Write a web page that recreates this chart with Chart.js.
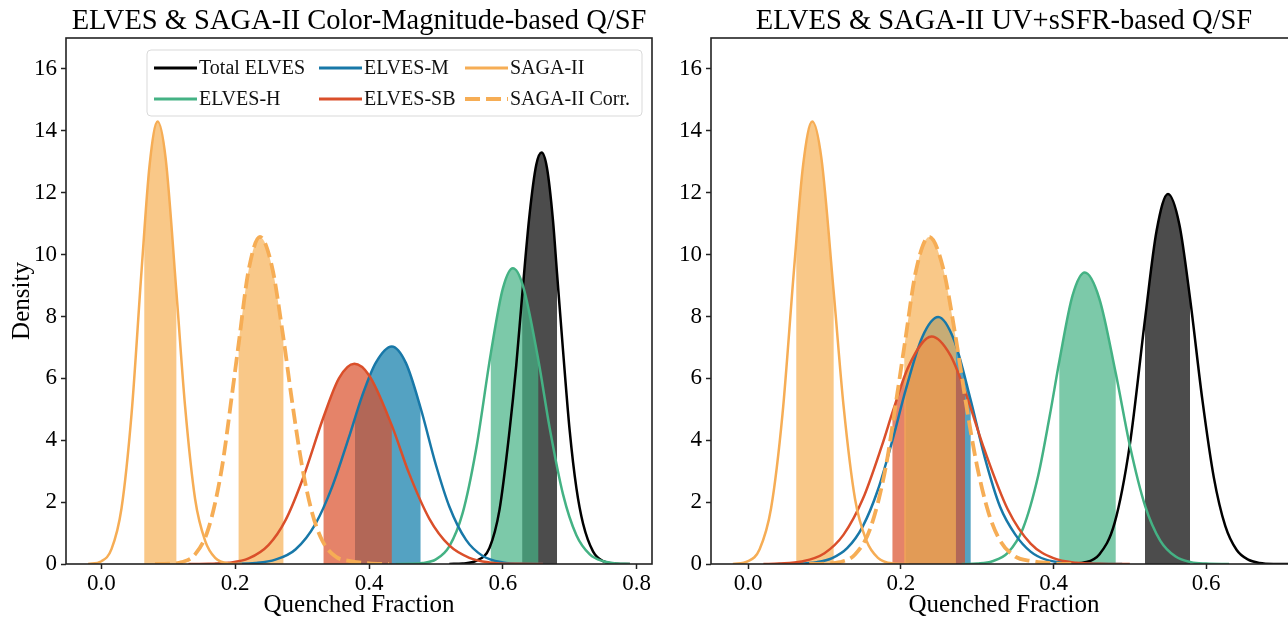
<!DOCTYPE html>
<html>
<head>
<meta charset="utf-8">
<title>ELVES &amp; SAGA-II quenched fractions</title>
<script src="https://cdn.jsdelivr.net/npm/chart.js@4.4.1/dist/chart.umd.min.js"></script>
<style>
  html, body { margin: 0; padding: 0; background: #fff; overflow: hidden; }
  #wrap { position: relative; width: 1288px; height: 618px; overflow: hidden; }
  canvas { position: absolute; top: 0; }
  #cmChart { left: 0; }
  #uvChart { left: 660px; }
</style>
</head>
<body>
<div id="wrap">
  <canvas id="cmChart" width="660" height="618"></canvas>
  <canvas id="uvChart" width="660" height="618"></canvas>
</div>
<script>
// Series names (legend order)
const seriesNames = ['Total ELVES', 'ELVES-H', 'ELVES-M', 'ELVES-SB', 'SAGA-II', 'SAGA-II Corr.'];

// SAGA-II densities (same in both panels)
const sagaX = [-0.02, 0.0, 0.015, 0.03, 0.045, 0.06, 0.072, 0.084, 0.096, 0.112, 0.125, 0.14, 0.155, 0.17, 0.19, 0.21];
const sagaY = [0.0, 0.09, 0.48, 1.8, 4.85, 9.5, 12.9, 14.3, 13.1, 8.8, 5.1, 2.1, 0.75, 0.2, 0.02, 0.0];
const sagaCorrX = [0.08, 0.10, 0.12, 0.14, 0.16, 0.18, 0.195, 0.205, 0.22, 0.237, 0.255, 0.272, 0.285, 0.30, 0.315, 0.33, 0.35, 0.37, 0.40, 0.43];
const sagaCorrY = [0.0, 0.01, 0.06, 0.31, 1.15, 3.1, 5.45, 7.1, 9.5, 10.57, 9.6, 7.3, 5.25, 3.15, 1.65, 0.76, 0.24, 0.1, 0.02, 0.0];

// Color-magnitude based Q/SF (left panel)
const cmTotalX = [0.52, 0.54, 0.56, 0.58, 0.595, 0.61, 0.62, 0.629, 0.64, 0.65, 0.658, 0.666, 0.675, 0.681, 0.69, 0.70, 0.71, 0.72, 0.735, 0.75, 0.77, 0.79];
const cmTotalY = [0.0, 0.02, 0.1, 0.52, 1.75, 4.3, 6.4, 8.7, 11.3, 12.9, 13.3, 12.8, 11.1, 9.4, 6.9, 4.3, 2.45, 1.3, 0.4, 0.09, 0.01, 0.0];
const cmHX = [0.44, 0.46, 0.48, 0.50, 0.52, 0.54, 0.56, 0.582, 0.60, 0.615, 0.63, 0.653, 0.67, 0.69, 0.71, 0.73, 0.75, 0.77, 0.79];
const cmHY = [0.0, 0.005, 0.03, 0.15, 0.57, 1.65, 3.7, 6.8, 8.9, 9.56, 9.0, 6.6, 4.4, 2.25, 0.93, 0.31, 0.09, 0.02, 0.0];
const cmMX = [0.17, 0.20, 0.23, 0.26, 0.29, 0.32, 0.345, 0.37, 0.39, 0.41, 0.434, 0.455, 0.477, 0.50, 0.52, 0.545, 0.57, 0.60, 0.63, 0.66];
const cmMY = [0.0, 0.006, 0.03, 0.14, 0.47, 1.3, 2.5, 4.1, 5.45, 6.5, 7.03, 6.5, 5.05, 3.2, 1.86, 0.78, 0.26, 0.05, 0.005, 0.0];
const cmSBX = [0.13, 0.16, 0.19, 0.22, 0.25, 0.275, 0.30, 0.332, 0.355, 0.378, 0.40, 0.434, 0.46, 0.49, 0.52, 0.55, 0.58, 0.62, 0.66];
const cmSBY = [0.0, 0.007, 0.04, 0.18, 0.62, 1.41, 2.7, 4.75, 6.0, 6.47, 6.1, 4.48, 2.92, 1.47, 0.6, 0.2, 0.05, 0.005, 0.0];
// shaded intervals, same order as seriesNames
const cmBandLo = [0.629, 0.582, 0.379, 0.332, 0.064, 0.205];
const cmBandHi = [0.681, 0.653, 0.477, 0.434, 0.112, 0.272];

// UV+sSFR based Q/SF (right panel)
const uvTotalX = [0.40, 0.42, 0.44, 0.46, 0.48, 0.50, 0.52, 0.535, 0.55, 0.565, 0.579, 0.595, 0.61, 0.625, 0.64, 0.655, 0.67, 0.69, 0.71];
const uvTotalY = [0.0, 0.006, 0.05, 0.31, 1.32, 3.86, 7.93, 10.76, 11.96, 10.96, 8.56, 5.31, 2.8, 1.23, 0.45, 0.14, 0.035, 0.003, 0.0];
const uvHX = [0.28, 0.30, 0.32, 0.34, 0.36, 0.38, 0.395, 0.408, 0.425, 0.441, 0.46, 0.4815, 0.50, 0.52, 0.54, 0.56, 0.58, 0.60, 0.63];
const uvHY = [0.0, 0.016, 0.09, 0.36, 1.15, 2.86, 4.78, 6.6, 8.68, 9.42, 8.58, 6.17, 3.83, 1.88, 0.75, 0.24, 0.06, 0.015, 0.0];
const uvMX = [0.04, 0.06, 0.09, 0.11, 0.13, 0.15, 0.17, 0.19, 0.2065, 0.228, 0.249, 0.27, 0.2915, 0.31, 0.33, 0.35, 0.37, 0.39, 0.42, 0.45, 0.49];
const uvMY = [0.0, 0.008, 0.06, 0.19, 0.52, 1.21, 2.4, 4.09, 5.64, 7.33, 7.98, 7.22, 5.3, 3.44, 1.85, 0.95, 0.4, 0.14, 0.03, 0.005, 0.0];
const uvSBX = [0.02, 0.04, 0.07, 0.10, 0.125, 0.15, 0.175, 0.19, 0.21, 0.2404, 0.265, 0.284, 0.31, 0.34, 0.37, 0.40, 0.43, 0.46, 0.50];
const uvSBY = [0.0, 0.015, 0.08, 0.35, 0.95, 2.09, 3.81, 4.97, 6.38, 7.35, 6.74, 5.59, 3.66, 1.77, 0.66, 0.19, 0.04, 0.008, 0.0];
const uvBandLo = [0.5198, 0.4076, 0.2065, 0.189, 0.063, 0.2045];
const uvBandHi = [0.5788, 0.4815, 0.2915, 0.284, 0.112, 0.2722];

// Axis ticks
const xTickStep = 0.2;
const yTickStep = 2;

// Styles
const FONT = '"Liberation Serif", "DejaVu Serif", serif';
const lineColors = ['#000000', '#44b284', '#1878a8', '#da4f2a', '#f6ad55', '#f6ad55'];
const fillColors = ['rgba(0,0,0,0.7)', 'rgba(68,178,132,0.7)', 'rgba(12,122,168,0.7)',
                    'rgba(218,79,42,0.7)', 'rgba(246,176,86,0.7)', 'rgba(246,176,86,0.7)'];
const dashes = [[], [], [], [], [], [15, 6]];
const widths = [2.5, 2.5, 2.5, 2.5, 2.5, 3.8];

function toPoints(xs, ys) {
    return xs.map((x, i) => ({ x: x, y: ys[i] }));
}

function buildDatasets(curves, lo, hi) {
    return curves.map((c, i) => ({
        label: seriesNames[i],
        data: toPoints(c[0], c[1]),
        borderColor: lineColors[i],
        borderWidth: widths[i],
        borderDash: dashes[i],
        borderCapStyle: 'butt',
        pointRadius: 0,
        fill: false,
        cubicInterpolationMode: 'monotone',
        order: curves.length - i,
        band: [lo[i], hi[i]],
        bandColor: fillColors[i]
    }));
}

// Shaded interval under each curve, drawn before all the lines
const bandPlugin = {
    id: 'bands',
    beforeDatasetsDraw(chart) {
        const ctx = chart.ctx;
        const area = chart.chartArea;
        const xs = chart.scales.x, ys = chart.scales.y;
        const base = ys.getPixelForValue(0);
        chart.data.datasets.forEach((ds, i) => {
            const meta = chart.getDatasetMeta(i);
            const line = meta.dataset;
            const pts = meta.data;
            if (!ds.band || !pts.length) return;
            if (typeof line.updateControlPoints === 'function') line.updateControlPoints(area, 'x');
            const x0 = xs.getPixelForValue(ds.band[0]);
            const x1 = xs.getPixelForValue(ds.band[1]);
            ctx.save();
            ctx.beginPath();
            ctx.rect(x0, area.top, x1 - x0, area.bottom - area.top);
            ctx.clip();
            ctx.beginPath();
            if (typeof line.path === 'function') {
                line.path(ctx);
            } else {
                pts.forEach((p, k) => k ? ctx.lineTo(p.x, p.y) : ctx.moveTo(p.x, p.y));
            }
            ctx.lineTo(pts[pts.length - 1].x, base);
            ctx.lineTo(pts[0].x, base);
            ctx.closePath();
            ctx.fillStyle = ds.bandColor;
            ctx.fill();
            ctx.restore();
        });
    }
};

// Frame, title, axis labels and legend
const decorPlugin = {
    id: 'decor',
    afterDraw(chart) {
        const ctx = chart.ctx;
        const a = chart.chartArea;
        const o = chart.options.plugins.decor;
        ctx.save();
        ctx.strokeStyle = '#222';
        ctx.lineWidth = 1.6;
        ctx.strokeRect(a.left, a.top, a.right - a.left, a.bottom - a.top);

        ctx.fillStyle = '#000';
        ctx.textAlign = 'center';
        ctx.textBaseline = 'alphabetic';
        ctx.font = '28.5px ' + FONT;
        ctx.fillText(o.title, (a.left + a.right) / 2, 29);
        ctx.font = '25px ' + FONT;
        ctx.fillText('Quenched Fraction', (a.left + a.right) / 2, 612);
        if (o.yLabel) {
            ctx.save();
            ctx.translate(29, (a.top + a.bottom) / 2);
            ctx.rotate(-Math.PI / 2);
            ctx.fillText(o.yLabel, 0, 0);
            ctx.restore();
        }

        if (o.legend) {
            const bx = a.left + 81, by = a.top + 12, bw = 495, bh = 66;
            ctx.beginPath();
            ctx.roundRect(bx, by, bw, bh, 4);
            ctx.fillStyle = 'rgba(255,255,255,0.8)';
            ctx.fill();
            ctx.strokeStyle = '#d9d9d9';
            ctx.lineWidth = 1;
            ctx.stroke();
            const colX = [7, 172, 318];
            const rowY = [18, 49];
            ctx.font = '20px ' + FONT;
            ctx.textAlign = 'left';
            ctx.textBaseline = 'middle';
            seriesNames.forEach((name, i) => {
                const x = bx + colX[Math.floor(i / 2)];
                const y = by + rowY[i % 2];
                ctx.beginPath();
                ctx.setLineDash(dashes[i]);
                ctx.lineWidth = i === 5 ? 3.8 : 3;
                ctx.strokeStyle = lineColors[i];
                ctx.moveTo(x, y);
                ctx.lineTo(x + 43, y);
                ctx.stroke();
                ctx.setLineDash([]);
                ctx.fillStyle = '#111';
                ctx.fillText(name, x + 45, y + 1);
            });
        }
        ctx.restore();
    }
};

function makeChart(id, curves, lo, hi, xMin, xMax, yAxisWidth, padRight, decor) {
    const tickFont = { family: FONT, size: 23 };
    return new Chart(document.getElementById(id), {
        type: 'line',
        data: { datasets: buildDatasets(curves, lo, hi) },
        options: {
            responsive: false,
            animation: false,
            layout: { padding: { left: 0, top: 38, right: padRight, bottom: 0 } },
            plugins: {
                legend: { display: false },
                tooltip: { enabled: false },
                decor: decor
            },
            scales: {
                x: {
                    type: 'linear',
                    min: xMin,
                    max: xMax,
                    ticks: {
                        stepSize: xTickStep,
                        includeBounds: false,
                        autoSkip: false,
                        maxRotation: 0,
                        padding: 1,
                        color: '#000',
                        font: tickFont,
                        callback: v => (Math.abs(v) < 1e-9 ? 0 : v).toFixed(1)
                    },
                    grid: { drawOnChartArea: false, tickLength: 5, tickWidth: 1.5, tickColor: '#222' },
                    border: { display: false },
                    afterFit: s => { s.height = 54; }
                },
                y: {
                    min: 0,
                    max: 17,
                    ticks: {
                        stepSize: yTickStep,
                        includeBounds: false,
                        padding: 4,
                        color: '#000',
                        font: tickFont,
                        callback: v => Math.round(v)
                    },
                    grid: { drawOnChartArea: false, tickLength: 5, tickWidth: 1.5, tickColor: '#222' },
                    border: { display: false },
                    afterFit: s => { s.width = yAxisWidth; }
                }
            }
        },
        plugins: [bandPlugin, decorPlugin]
    });
}

makeChart('cmChart',
    [[cmTotalX, cmTotalY], [cmHX, cmHY], [cmMX, cmMY], [cmSBX, cmSBY], [sagaX, sagaY], [sagaCorrX, sagaCorrY]],
    cmBandLo, cmBandHi, -0.053, 0.823, 66, 8,
    { title: 'ELVES & SAGA-II Color-Magnitude-based Q/SF', yLabel: 'Density', legend: true });

makeChart('uvChart',
    [[uvTotalX, uvTotalY], [uvHX, uvHY], [uvMX, uvMY], [uvSBX, uvSBY], [sagaX, sagaY], [sagaCorrX, sagaCorrY]],
    uvBandLo, uvBandHi, -0.0487, 0.719, 51, 23,
    { title: 'ELVES & SAGA-II UV+sSFR-based Q/SF', yLabel: null, legend: false });
</script>
</body>
</html>
